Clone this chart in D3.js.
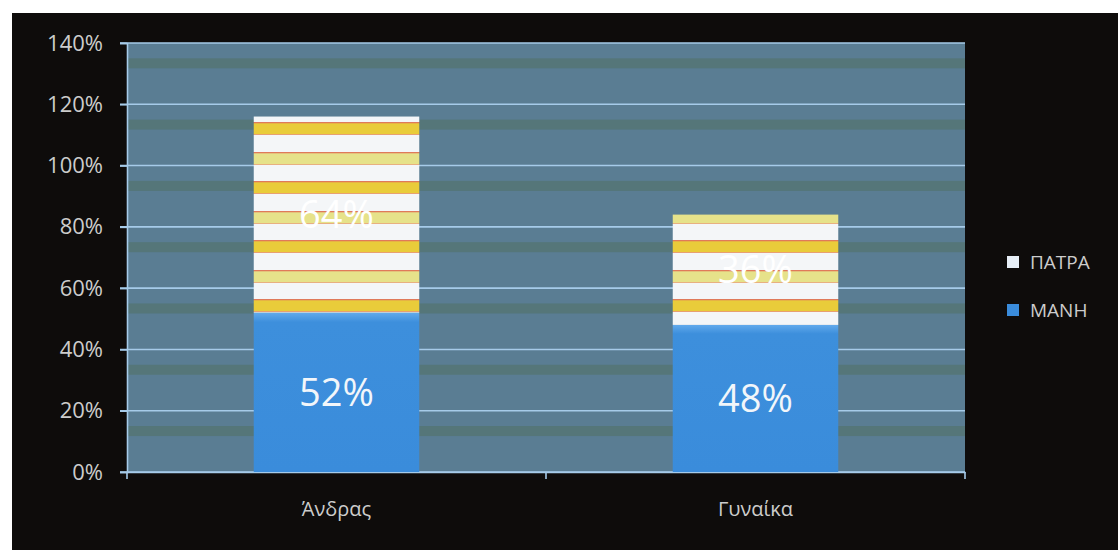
<!DOCTYPE html>
<html>
<head>
<meta charset="utf-8">
<script src="https://cdn.jsdelivr.net/npm/d3@7"></script>
<style>
  body { margin: 0; background: #fff; }
  svg text { font-family: "Open Sans", "Noto Sans", sans-serif; }
</style>
</head>
<body>
<div id="chart"></div>
<script>
// data
var categories = ["Άνδρας", "Γυναίκα"];
var series = ["ΜΑΝΗ", "ΠΑΤΡΑ"];
var mani = [0.52, 0.48];
var patra = [0.64, 0.36];
var yTicks = [0, 0.2, 0.4, 0.6, 0.8, 1.0, 1.2, 1.4];

var W = 1118, H = 550;
var margin = {left: 127, right: 153, top: 43, bottom: 78};

var svg = d3.select("#chart").append("svg")
    .attr("width", W)
    .attr("height", H);

var defs = svg.append("defs");

// blue bar gradient
var blueGrad = defs.append("linearGradient")
    .attr("id", "blueGrad")
    .attr("x1", 0).attr("y1", 0).attr("x2", 0).attr("y2", 1);
blueGrad.append("stop").attr("offset", "0%").attr("stop-color", "#62aaec");
blueGrad.append("stop").attr("offset", "6%").attr("stop-color", "#3d8fdc");
blueGrad.append("stop").attr("offset", "100%").attr("stop-color", "#3a8cdb");

// striped pattern for ΠΑΤΡΑ
var pat = defs.append("pattern")
    .attr("id", "stripes")
    .attr("patternUnits", "userSpaceOnUse")
    .attr("x", 0).attr("y", 122)
    .attr("width", 20).attr("height", 59);
pat.append("rect").attr("width", 20).attr("height", 59).attr("fill", "#f4f6f8");
pat.append("rect").attr("y", 0).attr("width", 20).attr("height", 13).attr("fill", "#e9cc3a");
pat.append("rect").attr("y", 30).attr("width", 20).attr("height", 13).attr("fill", "#e6e28a");
pat.append("rect").attr("y", 0).attr("width", 20).attr("height", 1.3).attr("fill", "#e07a5a");
pat.append("rect").attr("y", 12).attr("width", 20).attr("height", 1).attr("fill", "#e8a070");
pat.append("rect").attr("y", 30).attr("width", 20).attr("height", 1.3).attr("fill", "#e07a5a");
pat.append("rect").attr("y", 42).attr("width", 20).attr("height", 1).attr("fill", "#e8b080");

// outer frame
svg.append("rect")
    .attr("x", 12).attr("y", 13)
    .attr("width", W - 12).attr("height", H - 13)
    .attr("fill", "#0e0c0b");

var x = d3.scaleBand()
    .domain(categories)
    .range([margin.left, W - margin.right])
    .padding(0);

var y = d3.scaleLinear()
    .domain([0, 1.4])
    .range([H - margin.bottom, margin.top]);

var barW = x.bandwidth() * 0.395;

// plot background
svg.append("rect")
    .attr("x", margin.left).attr("y", margin.top)
    .attr("width", x.range()[1] - margin.left)
    .attr("height", y(0) - margin.top)
    .attr("fill", "#5a7d93");

// greenish bands
svg.append("g").selectAll("rect")
    .data(yTicks.slice(1))
    .enter().append("rect")
    .attr("x", margin.left)
    .attr("y", function (d) { return y(d - 0.05); })
    .attr("width", x.range()[1] - margin.left)
    .attr("height", 10)
    .attr("fill", "#4f7060")
    .attr("opacity", 0.5);

// gridlines
svg.append("g").selectAll("line")
    .data(yTicks)
    .enter().append("line")
    .attr("x1", margin.left - 7)
    .attr("x2", x.range()[1])
    .attr("y1", function (d) { return y(d); })
    .attr("y2", function (d) { return y(d); })
    .attr("stroke", "#a6cbe9")
    .attr("stroke-width", 1.6);

// y axis
var yAxis = svg.append("g")
    .attr("transform", "translate(" + margin.left + ",0)")
    .call(d3.axisLeft(y).tickValues(yTicks).tickSize(7).tickPadding(17)
        .tickFormat(function (d) { return Math.round(d * 100) + "%"; }));
yAxis.select(".domain").attr("stroke", "#a6cbe9").attr("stroke-width", 1.6);
yAxis.selectAll(".tick line").attr("stroke", "#a6cbe9").attr("stroke-width", 1.6);
yAxis.selectAll(".tick text")
    .attr("fill", "#cccccc")
    .style("font-size", "22px");

// x axis
var xAxis = svg.append("g")
    .attr("transform", "translate(0," + y(0) + ")")
    .call(d3.axisBottom(x).tickSize(0).tickPadding(30));
xAxis.select(".domain").attr("stroke", "#a6cbe9").attr("stroke-width", 1.6);
xAxis.selectAll(".tick text")
    .attr("fill", "#cccccc")
    .style("font-size", "20px");
// category boundary ticks
xAxis.selectAll(".sep")
    .data([0, 1, 2])
    .enter().append("line")
    .attr("x1", function (d) { return margin.left + d * x.step(); })
    .attr("x2", function (d) { return margin.left + d * x.step(); })
    .attr("y1", 0).attr("y2", 7)
    .attr("stroke", "#a6cbe9").attr("stroke-width", 1.6);

// bars
var bars = svg.append("g");
categories.forEach(function (c, i) {
    var cx = x(c) + x.bandwidth() / 2;
    bars.append("rect")
        .attr("x", cx - barW / 2)
        .attr("y", y(mani[i]))
        .attr("width", barW)
        .attr("height", y(0) - y(mani[i]))
        .attr("fill", "url(#blueGrad)");
    bars.append("rect")
        .attr("x", cx - barW / 2)
        .attr("y", y(mani[i] + patra[i]))
        .attr("width", barW)
        .attr("height", y(mani[i]) - y(mani[i] + patra[i]))
        .attr("fill", "url(#stripes)");

    bars.append("text")
        .attr("x", cx)
        .attr("y", (y(0) + y(mani[i])) / 2)
        .attr("dy", "0.36em")
        .attr("text-anchor", "middle")
        .attr("fill", "#f2f6fa")
        .style("font-size", "38px")
        .text(Math.round(mani[i] * 100) + "%");
    bars.append("text")
        .attr("x", cx)
        .attr("y", (y(mani[i]) + y(mani[i] + patra[i])) / 2)
        .attr("dy", "0.36em")
        .attr("text-anchor", "middle")
        .attr("fill", "#ffffff")
        .style("font-size", "38px")
        .text(Math.round(patra[i] * 100) + "%");
});

// legend
var legendItems = [
    {name: series[1], fill: "#e6eef6"},
    {name: series[0], fill: "#3a8cdb"}
];
var legend = svg.append("g").attr("transform", "translate(1007,262)");
legendItems.forEach(function (d, i) {
    var g = legend.append("g").attr("transform", "translate(0," + (i * 48) + ")");
    g.append("rect")
        .attr("x", 0).attr("y", -6)
        .attr("width", 12).attr("height", 12)
        .attr("fill", d.fill);
    g.append("text")
        .attr("x", 23)
        .attr("dy", "0.36em")
        .attr("fill", "#cccccc")
        .style("font-size", "19px")
        .text(d.name);
});
</script>
</body>
</html>
